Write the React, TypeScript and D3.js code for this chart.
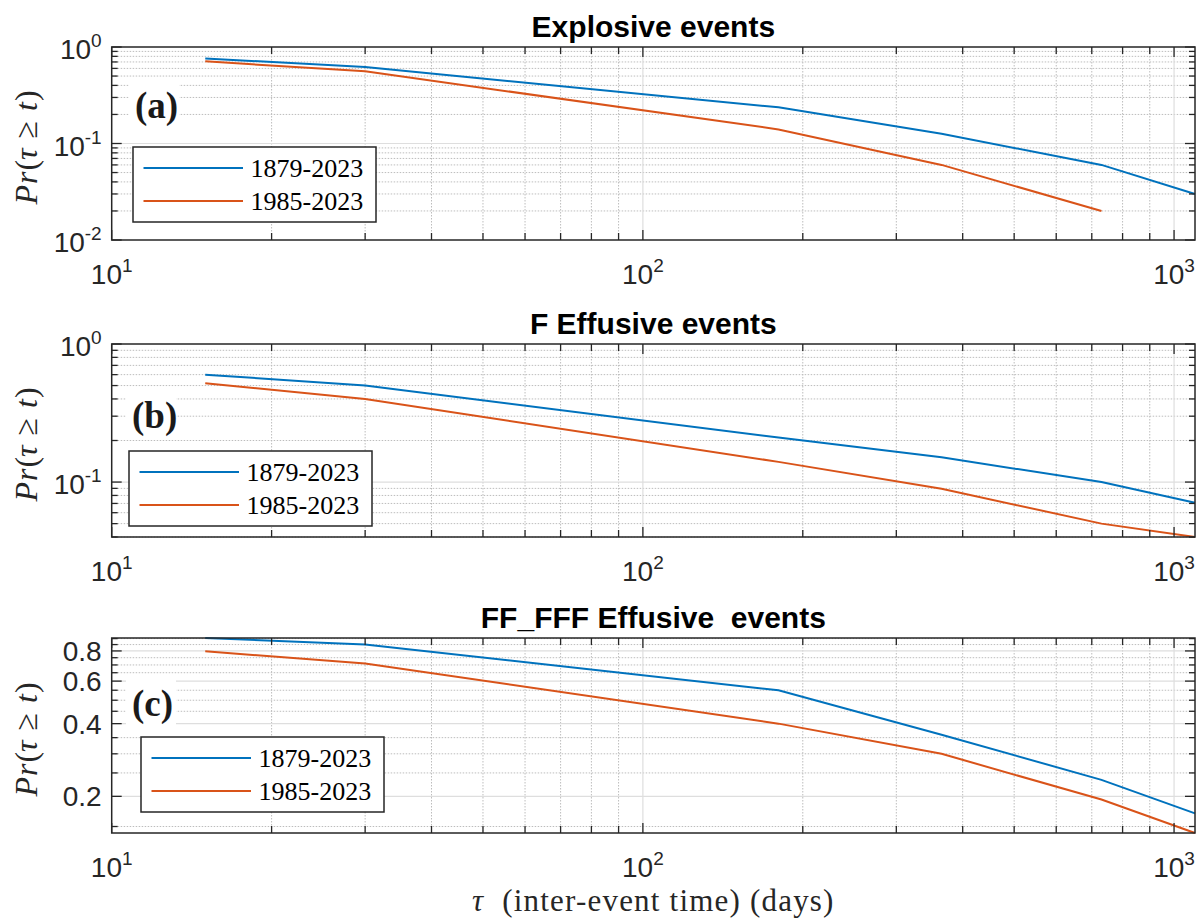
import * as d3 from "d3";

// inter-event time (days) at which the survival curves are evaluated
const tau = [15, 30, 180, 365, 730, 1095];

const seriesNames = ["1879-2023", "1985-2023"];
const seriesColors = ["#0072BD", "#D95319"];

// Pr(tau >= t)
const explosiveLong = [0.76, 0.62, 0.237, 0.126, 0.06, 0.03];
const explosiveRecent = [0.71, 0.56, 0.14, 0.06, 0.02, null];
const fLong = [0.6, 0.5, 0.21, 0.151, 0.1, 0.0707];
const fRecent = [0.52, 0.4, 0.14, 0.0895, 0.05, 0.04];
const ffLong = [0.905, 0.85, 0.55, 0.36, 0.234, 0.17];
const ffRecent = [0.797, 0.71, 0.4, 0.3, 0.194, 0.141];

const titles = ["Explosive events", "F Effusive events", "FF_FFF Effusive  events"];
const letters = ["(a)", "(b)", "(c)"];
const xDomain = [10, 1095];
const yDomains = [[0.01, 1], [0.04, 1], [0.141, 0.905]];
const majorTicksC = [0.2, 0.4, 0.6, 0.8];
const minorTicksC = [0.15, 0.25, 0.3, 0.35, 0.45, 0.5, 0.55, 0.65, 0.7, 0.75, 0.85, 0.9];

const panelData = [
    [explosiveLong, explosiveRecent],
    [fLong, fRecent],
    [ffLong, ffRecent],
];

// layout
const W = 1200, H = 919;
const left = 111.7, right = 1195;
const tops = [47, 344, 638];
const bottoms = [240, 537, 833];
const legendPos = [{x: 133, y: 147}, {x: 129, y: 451}, {x: 141, y: 737}];
const letterPos = [{x: 135, y: 118}, {x: 132, y: 428}, {x: 132, y: 716}];

const sans = "'Liberation Sans', Arial, Helvetica, sans-serif";
const serif = "'Liberation Serif', 'Times New Roman', serif";
const axisColor = "#262626";
const majorGrid = "#dedede";
const minorGrid = "#bdbdbd";

const isPow10 = (v: number) => Math.abs(Math.log10(v) - Math.round(Math.log10(v))) < 1e-6;

const Pow10 = ({e}: {e: number}) => (
    <>
        <tspan>10</tspan>
        <tspan dy={-12} fontSize={19}>{e}</tspan>
    </>
);

const Panel = ({i}: {i: number}) => {
    const top = tops[i], bottom = bottoms[i];
    const x = d3.scaleLog().domain(xDomain).range([left, right]);
    const y = d3.scaleLog().domain(yDomains[i]).range([bottom, top]);

    const xTicks = x.ticks();
    const xMajor = xTicks.filter(isPow10);
    const xMinor = xTicks.filter(t => !isPow10(t));

    let yMajor: number[], yMinor: number[];
    if (i === 2) {
        yMajor = majorTicksC;
        yMinor = minorTicksC;
    } else {
        const yt = y.ticks();
        yMajor = yt.filter(isPow10);
        yMinor = yt.filter(t => !isPow10(t));
    }

    const line = d3.line<[number, number | null]>()
        .defined(d => d[1] != null)
        .x(d => x(d[0]))
        .y(d => y(d[1] as number));

    const lg = legendPos[i];
    const lp = letterPos[i];

    return (
        <g>
            {/* grid */}
            {xMinor.map(t => (
                <line key={"xm" + t} x1={x(t)} x2={x(t)} y1={top} y2={bottom}
                      stroke={minorGrid} strokeWidth={1} strokeDasharray="1.5,1.5"/>
            ))}
            {yMinor.map(t => (
                <line key={"ym" + t} x1={left} x2={right} y1={y(t)} y2={y(t)}
                      stroke={minorGrid} strokeWidth={1} strokeDasharray="1.5,1.5"/>
            ))}
            {xMajor.filter(t => t > xDomain[0]).map(t => (
                <line key={"xM" + t} x1={x(t)} x2={x(t)} y1={top} y2={bottom}
                      stroke={majorGrid} strokeWidth={1.2}/>
            ))}
            {yMajor.filter(t => y(t) < bottom - 1 && y(t) > top + 1).map(t => (
                <line key={"yM" + t} x1={left} x2={right} y1={y(t)} y2={y(t)}
                      stroke={majorGrid} strokeWidth={1.2}/>
            ))}

            {/* panel letter with white background */}
            <rect x={lp.x - 6} y={lp.y - 36} width={50} height={46} fill="#fff"/>
            <text x={lp.x} y={lp.y} fontFamily={serif} fontWeight="bold" fontSize={37} fill="#1a1a1a">
                {letters[i]}
            </text>

            {/* curves */}
            {panelData[i].map((vals, s) => (
                <path key={s} d={line(tau.map((t, k) => [t, vals[k]]) as any) || ""}
                      fill="none" stroke={seriesColors[s]} strokeWidth={2}/>
            ))}

            {/* ticks */}
            {xTicks.map(t => {
                const len = isPow10(t) ? 10 : 7;
                return (
                    <g key={"xt" + t}>
                        <line x1={x(t)} x2={x(t)} y1={bottom} y2={bottom - len} stroke={axisColor} strokeWidth={1.3}/>
                        <line x1={x(t)} x2={x(t)} y1={top} y2={top + len} stroke={axisColor} strokeWidth={1.3}/>
                    </g>
                );
            })}
            {[...yMajor.map(t => [t, 10]), ...yMinor.map(t => [t, 6])].map(([t, len]) => (
                <g key={"yt" + t}>
                    <line x1={left} x2={left + len} y1={y(t)} y2={y(t)} stroke={axisColor} strokeWidth={1.3}/>
                    <line x1={right} x2={right - len} y1={y(t)} y2={y(t)} stroke={axisColor} strokeWidth={1.3}/>
                </g>
            ))}

            {/* box */}
            <rect x={left} y={top} width={right - left} height={bottom - top}
                  fill="none" stroke={axisColor} strokeWidth={1.5}/>

            {/* tick labels */}
            {xMajor.map(t => (
                <text key={"xl" + t} x={x(t)} y={bottom + 44} textAnchor="middle"
                      fontFamily={sans} fontSize={28} fill={axisColor}>
                    <Pow10 e={Math.round(Math.log10(t))}/>
                </text>
            ))}
            {yMajor.map(t => (
                <text key={"yl" + t} x={left - 10} y={y(t) + (i === 2 ? 10 : 12)} textAnchor="end"
                      fontFamily={sans} fontSize={28} fill={axisColor}>
                    {i === 2 ? d3.format(".1f")(t) : <Pow10 e={Math.round(Math.log10(t))}/>}
                </text>
            ))}

            {/* y label */}
            <text transform={`translate(37, ${(top + bottom) / 2 + 4}) rotate(-90)`} textAnchor="middle"
                  fontFamily={serif} fontSize={32} fill={axisColor}>
                <tspan fontStyle="italic">P</tspan>
                <tspan fontStyle="italic" dx={1}>r</tspan>
                <tspan dx={1}>(</tspan>
                <tspan fontStyle="italic">τ</tspan>
                <tspan dx={10}>≥</tspan>
                <tspan dx={10} fontStyle="italic">t</tspan>
                <tspan dx={1}>)</tspan>
            </text>

            {/* title */}
            <text x={(left + right) / 2} y={top - 10} textAnchor="middle" fontFamily={sans}
                  fontWeight="bold" fontSize={30} fill="#000" style={{whiteSpace: "pre"}}>
                {titles[i]}
            </text>

            {/* legend */}
            <rect x={lg.x} y={lg.y} width={243} height={75} fill="#fff" stroke={axisColor} strokeWidth={1.5}/>
            {seriesNames.map((name, s) => {
                const ry = lg.y + 21 + s * 33;
                return (
                    <g key={name}>
                        <line x1={lg.x + 10.5} x2={lg.x + 110} y1={ry} y2={ry}
                              stroke={seriesColors[s]} strokeWidth={2}/>
                        <text x={lg.x + 117.5} y={ry + 9} fontFamily={serif} fontSize={26} fill="#000">
                            {name}
                        </text>
                    </g>
                );
            })}
        </g>
    );
};

export default function App() {
    return (
        <svg width={W} height={H} style={{position: "absolute", left: 0, top: 0, background: "#fff"}}>
            <rect width={W} height={H} fill="#fff"/>
            {[0, 1, 2].map(i => <Panel key={i} i={i}/>)}
            <text x={(left + right) / 2} y={911} textAnchor="middle" fontFamily={serif} fontSize={31}
                  letterSpacing={1.2} fill={axisColor} style={{whiteSpace: "pre"}}>
                <tspan fontStyle="italic">τ</tspan>
                <tspan>  (inter-event time) (days)</tspan>
            </text>
        </svg>
    );
}
